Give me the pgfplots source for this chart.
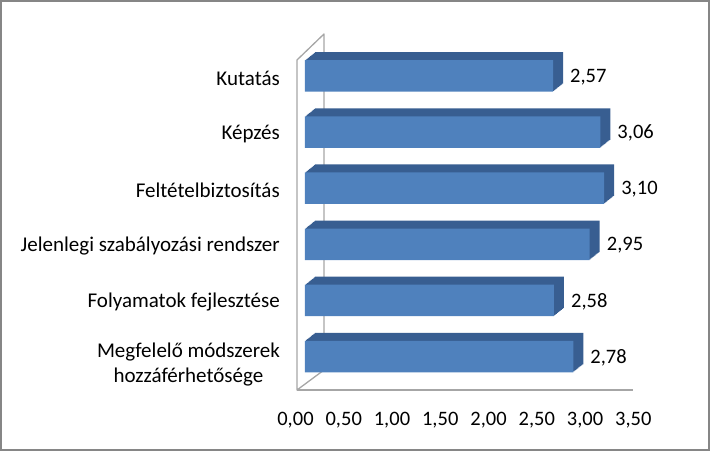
\documentclass[border=0pt]{standalone}
\usepackage{pgfplots}
\pgfplotsset{compat=1.18}
\usepackage{pgfplotstable}
\usepackage{fontspec}
\setmainfont{Carlito}
\definecolor{barfront}{HTML}{4F81BD}
\definecolor{bardepth}{HTML}{385E91}
\definecolor{framegrey}{HTML}{A6A6A6}
\definecolor{bordergrey}{HTML}{868686}
\pgfplotstableread{
pos value
0 2.78
1 2.58
2 2.95
3 3.10
4 3.06
5 2.57
}\datatable
\begin{document}
\begin{tikzpicture}[x=1pt,y=1pt]
% outer border / bounding box
\draw[bordergrey,line width=2pt] (1,1) rectangle (709,450);
% 3D frame (pixel y -> 451 - y)
\draw[framegrey,line width=1.3pt,line join=round]
  (297,61) -- (297,391) -- (324,417) -- (324,81) -- cycle;
\draw[framegrey,line width=1.3pt] (297,61) -- (633,61);
\begin{axis}[
  at={(305pt,61pt)}, anchor=south west,
  width=337.75pt, height=330pt, scale only axis,
  xmin=0, xmax=3.5, ymin=-0.597, ymax=5.285,
  axis line style={draw=none},
  major tick length=0pt,
  tick style={draw=none},
  xtick={0,0.5,...,3.5},
  /pgf/number format/.cd, use comma, fixed, fixed zerofill, precision=2, assume math mode=true,
  /pgfplots/.cd,
  xticklabel style={font=\fontsize{20.5}{24}\selectfont, anchor=north, inner sep=0pt, xshift=-9.5pt, yshift=-21.5pt},
  ytick={1,2,3,4,5},
  yticklabels={Folyamatok fejlesztése,Jelenlegi szabályozási rendszer,Feltételbiztosítás,Képzés,Kutatás},
  yticklabel style={font=\fontsize{21}{24.5}\selectfont, anchor=east, align=center, inner sep=0pt, xshift=-25pt, yshift=-2pt},
  extra y ticks={0},
  extra y tick labels={{Megfelelő módszerek\\hozzáférhetősége}},
  extra y tick style={yticklabel style={yshift=-6pt}},
  xbar, bar width=31.5pt,
  clip=false,
]
\pgfplotsinvokeforeach{10,9,...,1}{
  \addplot[draw=none, fill=bardepth, xshift=#1pt, yshift={0.8*#1pt}, forget plot] table[x=value,y=pos] {\datatable};
}
\addplot[draw=none, fill=barfront,
  point meta=x,
  nodes near coords={\pgfmathprintnumber[use comma,fixed,fixed zerofill,precision=2]{\pgfplotspointmeta}},
  nodes near coords style={font=\fontsize{20.5}{24}\selectfont, anchor=west, inner sep=0pt, xshift=17pt, yshift=-1pt},
] table[x=value,y=pos] {\datatable};
\end{axis}
\end{tikzpicture}
\end{document}
